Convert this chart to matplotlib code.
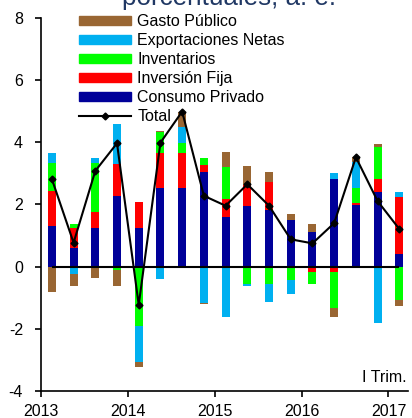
import numpy as np
import matplotlib
matplotlib.use("Agg")
import matplotlib.pyplot as plt
from matplotlib.patches import Patch
from matplotlib.lines import Line2D
from matplotlib.transforms import ScaledTranslation

plt.rcParams['font.family'] = ['Liberation Sans', 'DejaVu Sans']
plt.rcParams['axes.unicode_minus'] = False

# --- Datos: contribuciones trimestrales (puntos porcentuales) ---
years = ['2013', '2014', '2015', '2016', '2017']
consumo = [1.30, 0.60, 1.23, 2.26, 1.24, 2.52, 2.52, 3.04, 1.61, 1.94, 1.82, 1.50, 1.10, 2.82, 1.99, 2.39, 0.40]
inversion = [1.15, 0.63, 0.52, 1.03, 0.83, 1.15, 1.15, 0.23, 0.57, 0.69, 0.90, 0.00, -0.16, -0.16, 0.07, 0.44, 1.85]
inventarios = [0.90, 0.13, 1.60, -0.10, -1.90, 0.65, 0.32, 0.22, 1.04, -0.56, -0.56, -0.43, -0.40, -1.16, 0.46, 1.03, -1.07]
exportaciones = [0.30, -0.23, 0.13, 1.29, -1.16, -0.41, 0.50, -1.16, -1.63, -0.05, -0.57, -0.45, 0.00, 0.20, 0.86, -1.82, 0.14]
gasto = [-0.80, -0.38, -0.35, -0.51, -0.18, 0.06, 0.50, -0.04, 0.46, 0.61, 0.32, 0.19, 0.27, -0.31, 0.16, 0.08, -0.18]
total = [2.82, 0.77, 3.08, 3.97, -1.23, 3.99, 4.99, 2.28, 1.96, 2.65, 1.96, 0.88, 0.75, 1.40, 3.52, 2.11, 1.21]

series = [
    ('Consumo Privado', consumo, '#000099'),
    ('Inversión Fija', inversion, '#FF0000'),
    ('Inventarios', inventarios, '#00FF00'),
    ('Exportaciones Netas', exportaciones, '#00B0F0'),
    ('Gasto Público', gasto, '#996633'),
]

FS = 11.5
fig = plt.figure(figsize=(4.12, 4.18), dpi=100)
ax = fig.add_axes([41 / 412, 27 / 418, 367 / 412, 373 / 418])

x = np.arange(len(total)) + 0.5
pos = np.zeros(len(x))
neg = np.zeros(len(x))
for name, vals, col in series:
    v = np.array(vals)
    bottom = np.where(v >= 0, pos, neg)
    ax.bar(x, v, width=0.37, bottom=bottom, color=col, linewidth=0, zorder=2)
    pos = pos + np.where(v >= 0, v, 0)
    neg = neg + np.where(v < 0, v, 0)

ax.hlines(0, x[0], x[-1], color='black', lw=1.5, zorder=3)
ax.plot(x, total, color='black', lw=1.5, marker='D', ms=3.5, zorder=4)

ax.set_xlim(0, 16.9)
ax.set_ylim(-4, 8)
ax.set_yticks([-4, -2, 0, 2, 4, 6, 8])
ax.set_yticklabels(['-4', '-2', '0', '2', '4', '6', '8'])
ax.set_xticks(np.arange(len(years)) * 4)
ax.set_xticklabels(years)
for lab in ax.get_xticklabels():
    lab.set_transform(lab.get_transform() + ScaledTranslation(4 / 100, 0, fig.dpi_scale_trans))

for s in ['top', 'right']:
    ax.spines[s].set_visible(False)
for s in ['left', 'bottom']:
    ax.spines[s].set_linewidth(1.2)
ax.tick_params(axis='both', direction='out', length=4, width=1.2, labelsize=FS, colors='black')
ax.tick_params(axis='y', pad=9)
ax.tick_params(axis='x', pad=5)

ax.text(0.995, 0.035, 'I Trim.', transform=ax.transAxes, ha='right', va='center', fontsize=FS)

# leyenda
handles = [Patch(color=col, label=name) for name, vals, col in series[::-1]]
handles.append(Line2D([], [], color='black', lw=1.5, marker='D', ms=3.5, label='Total'))
fig.legend(handles=handles, loc='upper left', bbox_to_anchor=(79 / 412, 1 - 14 / 418),
           bbox_transform=fig.transFigure, frameon=False, fontsize=FS,
           borderpad=0, borderaxespad=0, handlelength=3.25, handleheight=0.5,
           handletextpad=0.4, labelspacing=0.25)

# título recortado arriba
fig.text(122 / 412, 1 - 5 / 418, 'porcentuales, a. e.', ha='left', va='baseline',
         fontsize=18.7, color='#203864')

fig.savefig('out.png', dpi=100)
